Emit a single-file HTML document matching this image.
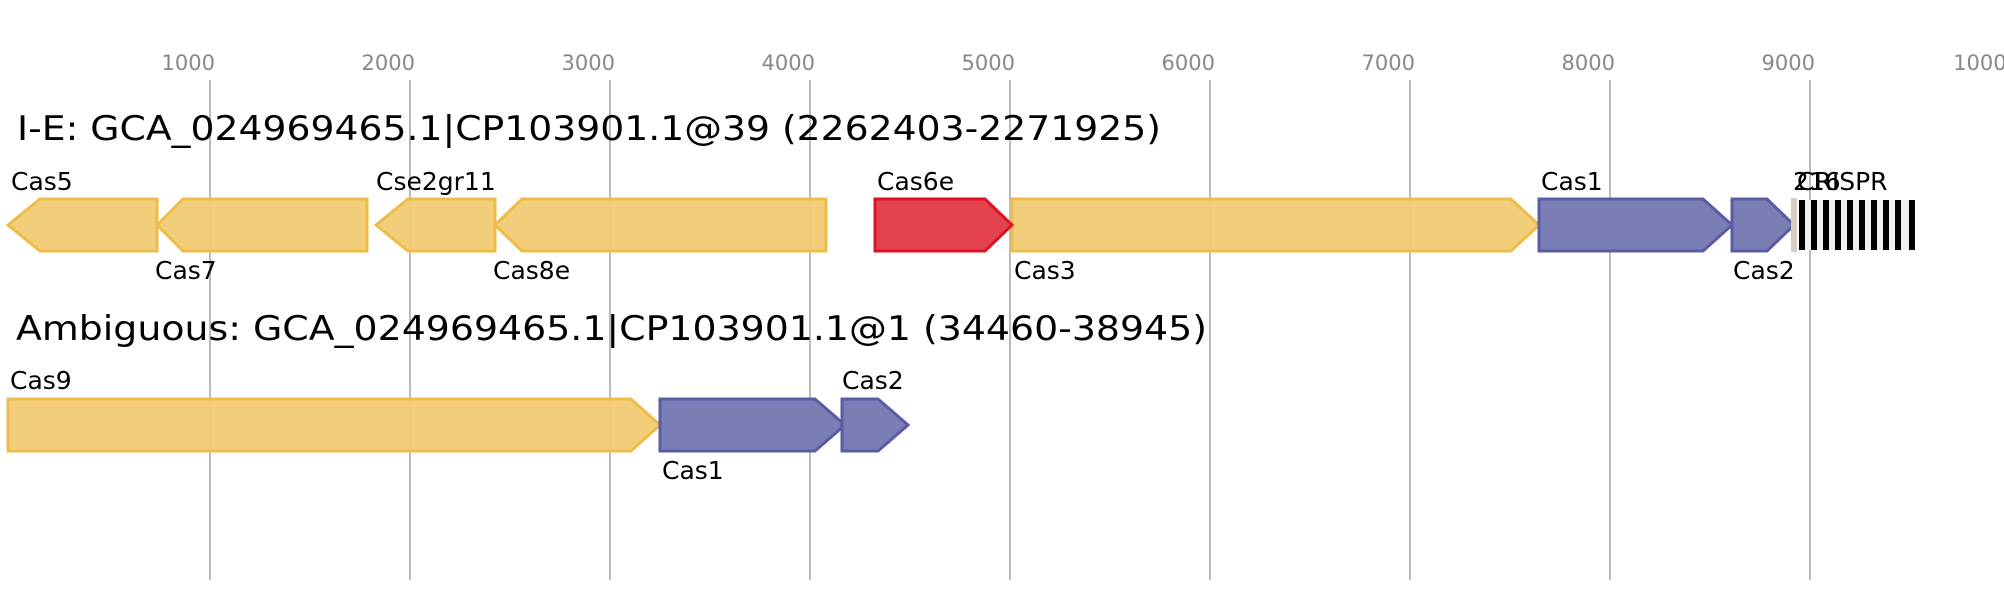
<!DOCTYPE html>
<html><head><meta charset="utf-8"><style>
html,body{margin:0;padding:0;background:#fff;}
svg{display:block;font-family:"DejaVu Sans","Liberation Sans",sans-serif;}
</style></head><body>
<svg width="2004" height="600" viewBox="0 0 2004 600" xmlns="http://www.w3.org/2000/svg">
<g stroke="#bbb" stroke-width="2">
<line x1="210" y1="80" x2="210" y2="580"/><line x1="410" y1="80" x2="410" y2="580"/>
<line x1="610" y1="80" x2="610" y2="580"/><line x1="810" y1="80" x2="810" y2="580"/>
<line x1="1010" y1="80" x2="1010" y2="580"/><line x1="1210" y1="80" x2="1210" y2="580"/>
<line x1="1410" y1="80" x2="1410" y2="580"/><line x1="1610" y1="80" x2="1610" y2="580"/>
<line x1="1810" y1="80" x2="1810" y2="580"/>
</g>
<g fill="#888" font-size="21" text-anchor="end">
<text x="215" y="70">1000</text><text x="415" y="70">2000</text><text x="615" y="70">3000</text>
<text x="815" y="70">4000</text><text x="1015" y="70">5000</text><text x="1215" y="70">6000</text>
<text x="1415" y="70">7000</text><text x="1615" y="70">8000</text><text x="1815" y="70">9000</text>
<text x="2020" y="70">10000</text>
</g>
<text x="17" y="140" font-size="34" textLength="1144" lengthAdjust="spacingAndGlyphs">I-E: GCA_024969465.1|CP103901.1@39 (2262403-2271925)</text>
<text x="16" y="340" font-size="34" textLength="1191" lengthAdjust="spacingAndGlyphs">Ambiguous: GCA_024969465.1|CP103901.1@1 (34460-38945)</text>
<g stroke-width="3" stroke-linejoin="miter">
<g fill="#f1cb73" fill-opacity="0.95" stroke="#efbc4a">
<polygon points="8,225 40,199 157,199 157,251 40,251"/>
<polygon points="157,225 183,199 367,199 367,251 183,251"/>
<polygon points="376,225 408,199 495,199 495,251 408,251"/>
<polygon points="495,225 522,199 826,199 826,251 522,251"/>
<polygon points="1012,199 1511,199 1539,225 1511,251 1012,251"/>
<polygon points="8,399 631,399 660,425 631,451 8,451"/>
</g>
<polygon fill="#e4424f" stroke="#da1426" points="875,199 985,199 1012,225 985,251 875,251"/>
<g fill="#7b7db5" stroke="#5a5ca5">
<polygon points="1539,199 1703,199 1732,225 1703,251 1539,251"/>
<polygon points="1732,199 1767,199 1794,225 1767,251 1732,251"/>
<polygon points="660,399 815,399 845,425 815,451 660,451"/>
<polygon points="842,399 878,399 908,425 878,451 842,451"/>
</g>
</g>
<rect x="1791" y="198" width="6" height="54" fill="#d8cbbf"/>
<rect x="1798" y="200" width="117" height="50" fill="#f0f0f0"/>
<g fill="#000">
<rect x="1799" y="200" width="6" height="50"/><rect x="1811" y="200" width="6" height="50"/>
<rect x="1823" y="200" width="6" height="50"/><rect x="1835" y="200" width="6" height="50"/>
<rect x="1847" y="200" width="6" height="50"/><rect x="1859" y="200" width="6" height="50"/>
<rect x="1871" y="200" width="6" height="50"/><rect x="1883" y="200" width="6" height="50"/>
<rect x="1895" y="200" width="6" height="50"/><rect x="1909" y="200" width="6" height="50"/>
</g>
<g font-size="25" fill="#000">
<text x="11" y="190">Cas5</text>
<text x="155" y="279">Cas7</text>
<text x="376" y="190">Cse2gr11</text>
<text x="493" y="279">Cas8e</text>
<text x="877" y="190">Cas6e</text>
<text x="1014" y="279">Cas3</text>
<text x="1541" y="190">Cas1</text>
<text x="1733" y="279">Cas2</text>
<text x="1793" y="190">216</text>
<text x="1797" y="190">CRISPR</text>
<text x="10" y="389">Cas9</text>
<text x="662" y="479">Cas1</text>
<text x="842" y="389">Cas2</text>
</g>
</svg>
</body></html>
